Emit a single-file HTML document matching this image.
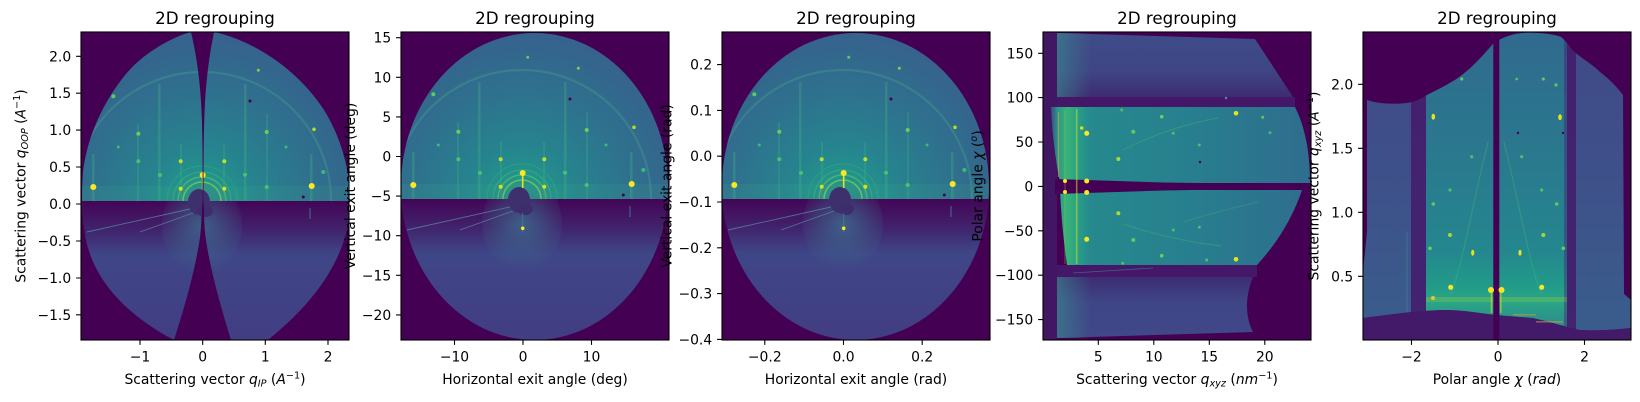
<!DOCTYPE html>
<html><head><meta charset="utf-8"><style>
body{margin:0;background:#fff}
svg{display:block}
text{font-family:"DejaVu Sans","Liberation Sans",sans-serif;font-size:13.9px;fill:#000}
.t{font-size:16.7px}
</style></head><body>
<svg width="1640" height="402" viewBox="0 0 1640 402" xmlns="http://www.w3.org/2000/svg" xmlns:xlink="http://www.w3.org/1999/xlink">
<defs>
<radialGradient id="gUp" gradientUnits="userSpaceOnUse" cx="121" cy="167" r="175">
<stop offset="0" stop-color="#28a287"/><stop offset="0.12" stop-color="#23958b"/><stop offset="0.3" stop-color="#26848e"/><stop offset="0.6" stop-color="#2e728e"/><stop offset="0.85" stop-color="#34668d"/><stop offset="1" stop-color="#38608d"/>
</radialGradient>
<linearGradient id="gLow" gradientUnits="userSpaceOnUse" x1="0" y1="167" x2="0" y2="308">
<stop offset="0" stop-color="#3d4c89"/><stop offset="1" stop-color="#423d84"/>
</linearGradient>
<linearGradient id="gDark" gradientUnits="userSpaceOnUse" x1="0" y1="167" x2="0" y2="222">
<stop offset="0" stop-color="#440154" stop-opacity="0.95"/><stop offset="0.45" stop-color="#440154" stop-opacity="0.6"/><stop offset="1" stop-color="#440154" stop-opacity="0"/>
</linearGradient>
<radialGradient id="gSpot" gradientUnits="userSpaceOnUse" cx="121" cy="192" r="48">
<stop offset="0" stop-color="#3d6a8c" stop-opacity="0.85"/><stop offset="1" stop-color="#3d6a8c" stop-opacity="0"/>
</radialGradient>
<linearGradient id="g4top" gradientUnits="userSpaceOnUse" x1="0" y1="0" x2="0" y2="65">
<stop offset="0" stop-color="#3f4c89"/><stop offset="0.6" stop-color="#3f4585"/><stop offset="1" stop-color="#3e2c72"/>
</linearGradient>
<linearGradient id="g4left" gradientUnits="userSpaceOnUse" x1="14" y1="0" x2="48" y2="0">
<stop offset="0" stop-color="#3a8a8d" stop-opacity="0.6"/><stop offset="1" stop-color="#3a8a8d" stop-opacity="0"/>
</linearGradient>
<linearGradient id="g4teal" gradientUnits="userSpaceOnUse" x1="8" y1="0" x2="267" y2="0">
<stop offset="0" stop-color="#3e4a88"/><stop offset="0.027" stop-color="#2a9a89"/><stop offset="0.066" stop-color="#38b278"/><stop offset="0.1" stop-color="#28a087"/><stop offset="0.15" stop-color="#26898d"/><stop offset="0.5" stop-color="#27808e"/><stop offset="1" stop-color="#2f6d8e"/>
</linearGradient>
<linearGradient id="g4bot" gradientUnits="userSpaceOnUse" x1="0" y1="245" x2="0" y2="306">
<stop offset="0" stop-color="#3d2c72"/><stop offset="0.4" stop-color="#3f4587"/><stop offset="1" stop-color="#404888"/>
</linearGradient>
<linearGradient id="g5noisy" gradientUnits="userSpaceOnUse" x1="0" y1="0" x2="0" y2="285">
<stop offset="0" stop-color="#404a88"/><stop offset="0.5" stop-color="#3e5089"/><stop offset="1" stop-color="#3a5c8c"/>
</linearGradient>
<linearGradient id="g5teal" gradientUnits="userSpaceOnUse" x1="0" y1="0" x2="0" y2="290">
<stop offset="0" stop-color="#31698e"/><stop offset="0.2" stop-color="#2d718e"/><stop offset="0.52" stop-color="#297c8e"/><stop offset="0.76" stop-color="#24878e"/><stop offset="0.87" stop-color="#219a89"/><stop offset="0.93" stop-color="#2aa685"/><stop offset="1" stop-color="#2c8f8a"/>
</linearGradient>
<clipPath id="cEll"><ellipse cx="133.5" cy="154.5" rx="133.5" ry="153.5"/></clipPath>
<clipPath id="cP1">
<path d="M110,0 C95,4 65,18 45,42 C22,70 6,105 2,140 C0,165 1,190 6,212 C14,245 40,280 93,308 C102,280 114,240 119,205 C122,180 122,130 121,90 C120,55 116,25 110,0 Z"/>
<path d="M133,0 C170,8 215,35 243,78 C258,102 266,130 268,150 L268,187 C262,225 240,265 187,308 L150,308 C140,275 128,235 124,200 C122,170 122,110 124,70 C126,40 129,20 133,0 Z"/>
</clipPath>
<clipPath id="c5"><path d="M4,68 C15,72 35,73 50,70 C56,68 60,66 64,63 C78,56 90,50 99,43 C112,33 122,21 130,12 C138,6 148,2 160,1 C175,0 190,2 198,5 C203,9 206,14 210,19 C220,27 230,33 237,40 C246,47 254,55 260,63 L261,262 L268,268 L268,296 C250,298 230,299 217,298 C207,296 202,294 197,293 C187,290 178,288 170,286 C157,285 145,284 134,283 C115,281 100,278 84,278 C70,278 60,279 50,280 C30,282 15,284 0,286 L0,240 L4,200 Z"/></clipPath>

<g id="pat">
<rect x="-5" y="-5" width="280" height="172" fill="url(#gUp)"/>
<rect x="-5" y="152" width="280" height="15" fill="#3db08a" opacity="0.14"/>
<path d="M-8,167 A129,129 0 0 1 250,167" fill="none" stroke="#45a88a" stroke-width="2.2" opacity="0.35"/>
<rect x="77" y="50" width="2.5" height="117" fill="#4cc383" opacity="0.25"/>
<rect x="163" y="50" width="2.5" height="117" fill="#4cc383" opacity="0.25"/>
<rect x="56" y="90" width="2" height="77" fill="#4cc383" opacity="0.2"/>
<rect x="185" y="80" width="2" height="87" fill="#4cc383" opacity="0.2"/>
<rect x="99" y="110" width="2" height="57" fill="#4cc383" opacity="0.2"/>
<rect x="142" y="110" width="2" height="57" fill="#4cc383" opacity="0.2"/>
<rect x="11" y="120" width="2.5" height="47" fill="#4cc383" opacity="0.25"/>
<rect x="229" y="120" width="2.5" height="47" fill="#4cc383" opacity="0.25"/>
<rect x="-5" y="167" width="280" height="150" fill="url(#gLow)"/>
<rect x="-5" y="167" width="280" height="55" fill="url(#gDark)"/>
<ellipse cx="121" cy="192" rx="40" ry="48" fill="url(#gSpot)"/>
<path d="M102,167 A19,19 0 0 1 140,167" fill="none" stroke="#7ad151" stroke-width="1.6" opacity="0.75"/>
<path d="M97,167 A24,24 0 0 1 145,167" fill="none" stroke="#5ec962" stroke-width="1.4" opacity="0.6"/>
<path d="M92,167 A29,29 0 0 1 150,167" fill="none" stroke="#3fbc73" stroke-width="1.3" opacity="0.5"/>
<path d="M86,167 A35,35 0 0 1 156,167" fill="none" stroke="#35b779" stroke-width="1.2" opacity="0.35"/>
<ellipse cx="118" cy="168" rx="11" ry="13" fill="#3e2f6d"/>
<ellipse cx="124" cy="177" rx="8" ry="6" fill="#3e2d6c"/>
<line x1="121.7" y1="141" x2="121.7" y2="156" stroke="#e5e419" stroke-width="1.6"/>
<circle cx="121.7" cy="141" r="3" fill="#fde725"/>
<line x1="121.7" y1="181" x2="121.7" y2="200" stroke="#3f8a8c" stroke-width="1" opacity="0.7"/>
<path d="M109,175 L6,198" stroke="#5a8fa0" stroke-width="0.9" opacity="0.75" fill="none"/>
<path d="M112,179 L59,198" stroke="#5a8fa0" stroke-width="0.9" opacity="0.75" fill="none"/>
<line x1="229" y1="174" x2="229" y2="185" stroke="#4a9a9a" stroke-width="1" opacity="0.7"/>
<circle cx="12.3" cy="153" r="3" fill="#fde725"/>
<circle cx="230.7" cy="152" r="3" fill="#fde725"/>
<circle cx="99.7" cy="127.3" r="2" fill="#c2df23"/>
<circle cx="143.3" cy="127.3" r="2" fill="#c2df23"/>
<circle cx="99.7" cy="154.7" r="2" fill="#d8e219"/>
<circle cx="143.3" cy="154.7" r="2" fill="#d8e219"/>
<circle cx="57.3" cy="99.7" r="2" fill="#6ccd5a"/>
<circle cx="185.7" cy="98" r="2" fill="#6ccd5a"/>
<circle cx="32.3" cy="62.3" r="2" fill="#5ec962"/>
<circle cx="126.7" cy="25.3" r="1.5" fill="#5ec962"/>
<circle cx="177.3" cy="36.3" r="1.5" fill="#7ad151"/>
<circle cx="233" cy="95.3" r="1.8" fill="#b5de2b"/>
<circle cx="57.3" cy="127.3" r="2" fill="#4ac16d"/>
<circle cx="164" cy="140.7" r="2" fill="#4ac16d"/>
<circle cx="79" cy="141" r="2" fill="#4ac16d"/>
<circle cx="185.7" cy="153" r="2" fill="#4ac16d"/>
<circle cx="242.3" cy="138" r="2" fill="#3bbb75"/>
<circle cx="37.3" cy="113" r="1.5" fill="#3bbb75"/>
<circle cx="205" cy="113" r="1.5" fill="#3bbb75"/>
<circle cx="121.7" cy="196.3" r="1.8" fill="#fde725"/>
<circle cx="169" cy="67" r="1.5" fill="#440154"/>
<circle cx="222.3" cy="163" r="1.5" fill="#440154"/>
</g>
</defs>

<rect width="1640" height="402" fill="#fff"/>

<!-- Panel 1 -->
<g transform="translate(81,32)">
<rect width="268" height="308" fill="#440154"/>
<g clip-path="url(#cP1)"><use xlink:href="#pat" href="#pat" transform="translate(0,2)"/></g>
</g>

<!-- Panel 2 -->
<g transform="translate(401,32)">
<rect width="268" height="308" fill="#440154"/>
<g clip-path="url(#cEll)"><use xlink:href="#pat" href="#pat"/></g>
</g>

<!-- Panel 3 -->
<g transform="translate(722,32)">
<rect width="268" height="308" fill="#440154"/>
<g clip-path="url(#cEll)"><use xlink:href="#pat" href="#pat"/></g>
</g>

<!-- Panel 4 -->
<g transform="translate(1043,32)">
<rect width="268" height="308" fill="#440154"/>
<rect x="0" y="0" width="14" height="308" fill="#3c3f80" opacity="0.35"/>
<path d="M14,1 L212,7 L250,65 L14,65 Z" fill="url(#g4top)"/>
<rect x="14" y="1" width="34" height="64" fill="url(#g4left)"/>
<rect x="14" y="65" width="238" height="10" fill="#441769"/>
<path d="M8,75 L252,75 C262,95 267,120 267,151 L17,151 C12,125 9,100 8,75 Z" fill="url(#g4teal)"/>
<path d="M17,158 L259,158 C250,185 235,210 214,233 L24,233 C20,205 18,180 17,158 Z" fill="url(#g4teal)"/>
<path d="M12,147 L120,150.5 L268,152.5 L268,156 L120,158.5 L12,162 Z" fill="#440154"/>
<rect x="14" y="233" width="200" height="12" fill="#441769"/>
<path d="M30,241 L110,236" stroke="#4a8a9a" stroke-width="0.8" opacity="0.6"/>
<path d="M14,245 L210,245 C203,262 201,282 210,300 L14,306 Z" fill="url(#g4bot)"/>
<rect x="14" y="245" width="34" height="61" fill="url(#g4left)"/>
<line x1="33.7" y1="77" x2="33.7" y2="232" stroke="#c8e020" stroke-width="1.6" opacity="0.55"/>
<line x1="15.5" y1="80" x2="15.5" y2="145" stroke="#e69b3a" stroke-width="1.3" opacity="0.6"/>
<line x1="22" y1="78" x2="22" y2="232" stroke="#9fda3a" stroke-width="1" opacity="0.4"/>
<path d="M80,118 Q125,95 175,86" stroke="#3fbc73" stroke-width="1.2" fill="none" opacity="0.35"/>
<path d="M80,192 Q128,208 178,214" stroke="#3fbc73" stroke-width="1.2" fill="none" opacity="0.35"/>
<path d="M140,190 Q180,178 215,170" stroke="#3fbc73" stroke-width="1" fill="none" opacity="0.3"/>
<circle cx="43.7" cy="101.3" r="2.5" fill="#fde725"/>
<circle cx="43.7" cy="149" r="2.5" fill="#fde725"/>
<circle cx="43.7" cy="160.5" r="2.5" fill="#fde725"/>
<circle cx="43.7" cy="207.3" r="2.5" fill="#f5e61f"/>
<circle cx="22" cy="149" r="2" fill="#fde725"/>
<circle cx="22" cy="160" r="2" fill="#fde725"/>
<circle cx="38.7" cy="96" r="1.8" fill="#d0e11c"/>
<circle cx="75.3" cy="127" r="2" fill="#a8db34"/>
<circle cx="75.3" cy="181.3" r="2" fill="#a8db34"/>
<circle cx="90.3" cy="99.7" r="2" fill="#5ec962"/>
<circle cx="90.3" cy="208" r="2" fill="#5ec962"/>
<circle cx="118.7" cy="84.7" r="1.8" fill="#6ccd5a"/>
<circle cx="118.7" cy="223.7" r="1.8" fill="#6ccd5a"/>
<circle cx="130.3" cy="101.3" r="1.5" fill="#4ac16d"/>
<circle cx="130.3" cy="198" r="1.5" fill="#4ac16d"/>
<circle cx="156.3" cy="113" r="1.5" fill="#4ac16d"/>
<circle cx="156.3" cy="195.3" r="1.5" fill="#4ac16d"/>
<circle cx="193" cy="81.3" r="2.3" fill="#e5e419"/>
<circle cx="193" cy="227.3" r="2.3" fill="#e5e419"/>
<circle cx="219.7" cy="85.3" r="1.5" fill="#5ec962"/>
<circle cx="227" cy="100.7" r="1.5" fill="#3fbc73"/>
<circle cx="79.7" cy="231.3" r="1.5" fill="#4ac16d"/>
<circle cx="78.7" cy="78" r="1.5" fill="#4ac16d"/>
<circle cx="163.7" cy="228" r="1.5" fill="#4ac16d"/>
<circle cx="183" cy="66" r="1.2" fill="#5a8fa0"/>
<circle cx="157" cy="130" r="1.2" fill="#440154"/>
</g>

<!-- Panel 5 -->
<g transform="translate(1363,32)">
<rect width="268" height="308" fill="#440154"/>
<path d="M4,68 C15,72 35,73 50,70 C56,68 60,66 64,63 C78,56 90,50 99,43 C112,33 122,21 130,12 C138,6 148,2 160,1 C175,0 190,2 198,5 C203,9 206,14 210,19 C220,27 230,33 237,40 C246,47 254,55 260,63 L261,262 L268,268 L268,296 C250,298 230,299 217,298 C207,296 202,294 197,293 C187,290 178,288 170,286 C157,285 145,284 134,283 C115,281 100,278 84,278 C70,278 60,279 50,280 C30,282 15,284 0,286 L0,240 L4,200 Z" fill="url(#g5noisy)"/>
<path d="M0,286 C15,284 30,282 50,280 C60,279 70,278 84,278 C100,278 115,281 134,283 C145,284 157,285 170,286 C178,288 187,290 197,293 C202,294 207,296 217,298 C230,299 250,298 268,296 L268,308 L0,308 Z" fill="#43196a"/>
<g clip-path="url(#c5)">
<rect x="63" y="0" width="141" height="300" fill="url(#g5teal)"/>
<rect x="48" y="0" width="15" height="300" fill="#441a6b" opacity="0.85"/>
<rect x="204" y="0" width="9" height="300" fill="#441a6b" opacity="0.85"/>
<rect x="201" y="0" width="3" height="300" fill="#441a6b" opacity="0.4"/>
<rect x="63" y="265" width="141" height="5" fill="#d2e21b" opacity="0.2"/>
<line x1="44" y1="200" x2="44" y2="280" stroke="#4a8a9a" stroke-width="1" opacity="0.5"/>
</g>
<rect x="150" y="282" width="23" height="1.6" fill="#d9a03a" opacity="0.45"/>
<rect x="173" y="289" width="27" height="1.6" fill="#d9a03a" opacity="0.5"/>
<rect x="130.3" y="0" width="6" height="308" fill="#440154"/>
<path d="M125,110 C110,170 100,230 88,262" stroke="#3fbc73" stroke-width="1.3" fill="none" opacity="0.35"/>
<path d="M141,110 C156,170 166,230 178,262" stroke="#3fbc73" stroke-width="1.3" fill="none" opacity="0.35"/>
<ellipse cx="70.3" cy="84.7" rx="1.8" ry="3" fill="#e5e419"/>
<ellipse cx="197" cy="85.3" rx="1.8" ry="3" fill="#e5e419"/>
<circle cx="87.7" cy="255.3" r="2.5" fill="#fde725"/>
<circle cx="178.7" cy="255.3" r="2.5" fill="#fde725"/>
<circle cx="128" cy="258" r="3" fill="#fde725"/>
<circle cx="138.5" cy="258" r="3" fill="#fde725"/>
<line x1="128.5" y1="258" x2="128.5" y2="281" stroke="#d8e219" stroke-width="1.4" opacity="0.6"/>
<line x1="137.8" y1="258" x2="137.8" y2="281" stroke="#d8e219" stroke-width="1.4" opacity="0.6"/>
<ellipse cx="109.7" cy="220.7" rx="1.6" ry="3" fill="#e5e419"/>
<ellipse cx="157" cy="220.7" rx="1.6" ry="3" fill="#e5e419"/>
<circle cx="87" cy="203" r="2" fill="#a0da39"/>
<circle cx="180.3" cy="203" r="2" fill="#a0da39"/>
<circle cx="70.3" cy="172" r="1.8" fill="#5ec962"/>
<circle cx="193.7" cy="172" r="1.8" fill="#5ec962"/>
<circle cx="87" cy="158" r="1.6" fill="#4ac16d"/>
<circle cx="178.7" cy="158" r="1.6" fill="#4ac16d"/>
<circle cx="98.7" cy="47" r="1.6" fill="#5ec962"/>
<circle cx="180.3" cy="47" r="1.6" fill="#5ec962"/>
<circle cx="153.7" cy="47" r="1.4" fill="#4ac16d"/>
<circle cx="67" cy="216.3" r="1.8" fill="#6ccd5a"/>
<circle cx="200.3" cy="216.3" r="1.8" fill="#6ccd5a"/>
<circle cx="108.7" cy="124.7" r="1.6" fill="#4ac16d"/>
<circle cx="158.7" cy="124.7" r="1.6" fill="#4ac16d"/>
<circle cx="193" cy="53" r="1.6" fill="#5ec962"/>
<circle cx="70" cy="266" r="2" fill="#f0c030"/>
<circle cx="155" cy="101" r="1.2" fill="#440154"/>
<circle cx="200" cy="101" r="1.2" fill="#440154"/>
</g>

<!-- frames -->
<g fill="none" stroke="#000" stroke-width="1.1">
<rect x="81" y="32" width="268" height="308"/>
<rect x="401" y="32" width="268" height="308"/>
<rect x="722" y="32" width="268" height="308"/>
<rect x="1043" y="32" width="268" height="308"/>
<rect x="1363" y="32" width="268" height="308"/>
</g>
<!-- ticks -->
<path fill="none" stroke="#000" stroke-width="1.1" d="
M81,56.3h-4.9M81,93.2h-4.9M81,130.1h-4.9M81,167h-4.9M81,204h-4.9M81,241h-4.9M81,278h-4.9M81,314.8h-4.9
M140,340v4.9M202.7,340v4.9M265.3,340v4.9M328,340v4.9
M401,37.7h-4.9M401,77.3h-4.9M401,116.9h-4.9M401,156.5h-4.9M401,196.1h-4.9M401,235.7h-4.9M401,275.3h-4.9M401,314.9h-4.9
M454.5,340v4.9M523,340v4.9M591.5,340v4.9
M722,64.6h-4.9M722,110.4h-4.9M722,156.2h-4.9M722,202h-4.9M722,247.8h-4.9M722,293.6h-4.9M722,339.4h-4.9
M764.8,340v4.9M843.5,340v4.9M922.2,340v4.9
M1043,53.3h-4.9M1043,97.6h-4.9M1043,142h-4.9M1043,186.4h-4.9M1043,230.8h-4.9M1043,275.2h-4.9M1043,319.6h-4.9
M1098.3,340v4.9M1153.8,340v4.9M1209.3,340v4.9M1264.8,340v4.9
M1363,84.3h-4.9M1363,148.3h-4.9M1363,212.3h-4.9M1363,276.3h-4.9
M1411.5,340v4.9M1498,340v4.9M1584.5,340v4.9"/>

<!-- titles -->
<text class="t" x="215" y="24" text-anchor="middle">2D regrouping</text>
<text class="t" x="535" y="24" text-anchor="middle">2D regrouping</text>
<text class="t" x="856" y="24" text-anchor="middle">2D regrouping</text>
<text class="t" x="1177" y="24" text-anchor="middle">2D regrouping</text>
<text class="t" x="1497" y="24" text-anchor="middle">2D regrouping</text>

<!-- y tick labels -->
<g text-anchor="end">
<text x="71.2" y="61.3">2.0</text><text x="71.2" y="98.2">1.5</text><text x="71.2" y="135.1">1.0</text><text x="71.2" y="172">0.5</text><text x="71.2" y="209">0.0</text><text x="71.2" y="246">−0.5</text><text x="71.2" y="283">−1.0</text><text x="71.2" y="319.8">−1.5</text>
<text x="391.2" y="42.7">15</text><text x="391.2" y="82.3">10</text><text x="391.2" y="121.9">5</text><text x="391.2" y="161.5">0</text><text x="391.2" y="201.1">−5</text><text x="391.2" y="240.7">−10</text><text x="391.2" y="280.3">−15</text><text x="391.2" y="319.9">−20</text>
<text x="712.2" y="69.6">0.2</text><text x="712.2" y="115.4">0.1</text><text x="712.2" y="161.2">0.0</text><text x="712.2" y="207">−0.1</text><text x="712.2" y="252.8">−0.2</text><text x="712.2" y="298.6">−0.3</text><text x="712.2" y="344.4">−0.4</text>
<text x="1033.2" y="58.3">150</text><text x="1033.2" y="102.6">100</text><text x="1033.2" y="147">50</text><text x="1033.2" y="191.4">0</text><text x="1033.2" y="235.8">−50</text><text x="1033.2" y="280.2">−100</text><text x="1033.2" y="324.6">−150</text>
<text x="1353.2" y="89.3">2.0</text><text x="1353.2" y="153.3">1.5</text><text x="1353.2" y="217.3">1.0</text><text x="1353.2" y="281.3">0.5</text>
</g>
<!-- x tick labels -->
<g text-anchor="middle">
<text x="140" y="361.5">−1</text><text x="202.7" y="361.5">0</text><text x="265.3" y="361.5">1</text><text x="328" y="361.5">2</text>
<text x="454.5" y="361.5">−10</text><text x="523" y="361.5">0</text><text x="591.5" y="361.5">10</text>
<text x="764.8" y="361.5">−0.2</text><text x="843.5" y="361.5">0.0</text><text x="922.2" y="361.5">0.2</text>
<text x="1098.3" y="361.5">5</text><text x="1153.8" y="361.5">10</text><text x="1209.3" y="361.5">15</text><text x="1264.8" y="361.5">20</text>
<text x="1411.5" y="361.5">−2</text><text x="1498" y="361.5">0</text><text x="1584.5" y="361.5">2</text>
</g>

<!-- x labels -->
<text x="215" y="384" text-anchor="middle">Scattering vector <tspan font-style="italic">q</tspan><tspan font-style="italic" font-size="9.7" dy="2.5">IP</tspan><tspan dy="-2.5"> (</tspan><tspan font-style="italic">A</tspan><tspan font-size="9.7" dy="-5.5">−1</tspan><tspan dy="5.5">)</tspan></text>
<text x="535" y="384" text-anchor="middle">Horizontal exit angle (deg)</text>
<text x="856" y="384" text-anchor="middle">Horizontal exit angle (rad)</text>
<text x="1177" y="384" text-anchor="middle">Scattering vector <tspan font-style="italic">q</tspan><tspan font-style="italic" font-size="9.7" dy="2.5">xyz</tspan><tspan dy="-2.5"> (</tspan><tspan font-style="italic">nm</tspan><tspan font-size="9.7" dy="-5.5">−1</tspan><tspan dy="5.5">)</tspan></text>
<text x="1497" y="384" text-anchor="middle">Polar angle <tspan font-style="italic">χ</tspan> (<tspan font-style="italic">rad</tspan>)</text>

<!-- y labels -->
<text transform="translate(25.5,186) rotate(-90)" text-anchor="middle">Scattering vector <tspan font-style="italic">q</tspan><tspan font-style="italic" font-size="9.7" dy="2.5">OOP</tspan><tspan dy="-2.5"> (</tspan><tspan font-style="italic">A</tspan><tspan font-size="9.7" dy="-5.5">−1</tspan><tspan dy="5.5">)</tspan></text>
<text transform="translate(355,186) rotate(-90)" text-anchor="middle">Vertical exit angle (deg)</text>
<text transform="translate(671.5,186) rotate(-90)" text-anchor="middle">Vertical exit angle (rad)</text>
<text transform="translate(982.5,186) rotate(-90)" text-anchor="middle">Polar angle <tspan font-style="italic">χ</tspan> (<tspan font-style="italic" font-size="9.7" dy="-5.5">o</tspan><tspan dy="5.5">)</tspan></text>
<text transform="translate(1318.5,186) rotate(-90)" text-anchor="middle">Scattering vector <tspan font-style="italic">q</tspan><tspan font-style="italic" font-size="9.7" dy="2.5">xyz</tspan><tspan dy="-2.5"> (</tspan><tspan font-style="italic">A</tspan><tspan font-size="9.7" dy="-5.5">−1</tspan><tspan dy="5.5">)</tspan></text>
</svg>
</body></html>
